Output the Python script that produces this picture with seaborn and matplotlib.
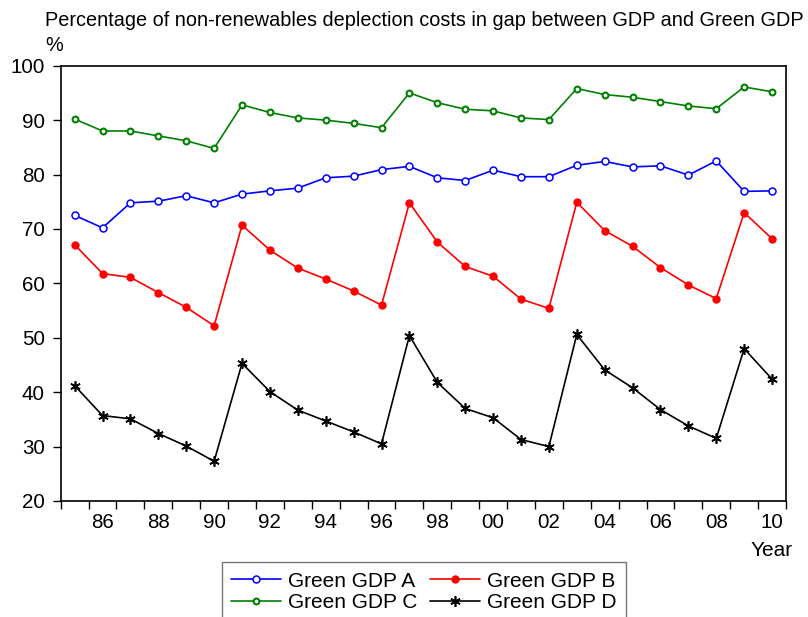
import numpy as np
import pandas as pd
import matplotlib
matplotlib.use("Agg")
import matplotlib.pyplot as plt
from matplotlib.ticker import FixedLocator
import seaborn as sns

# values (%), 1985-2010
years = list(range(1985, 2011))
green_gdp_a = [72.5, 70.2, 74.8, 75.1, 76.1, 74.8, 76.4, 77.0, 77.5, 79.4, 79.7, 80.9, 81.5,
               79.4, 78.9, 80.8, 79.6, 79.6, 81.7, 82.4, 81.4, 81.6, 79.9, 82.5, 76.9, 77.0]
green_gdp_b = [67.1, 61.8, 61.1, 58.3, 55.6, 52.2, 70.7, 66.1, 62.8, 60.8, 58.6, 56.0, 74.8,
               67.6, 63.1, 61.3, 57.1, 55.4, 74.9, 69.7, 66.8, 62.9, 59.7, 57.2, 73.0, 68.2]
green_gdp_c = [90.2, 88.0, 88.0, 87.1, 86.2, 84.8, 92.8, 91.4, 90.4, 90.0, 89.4, 88.6, 95.0,
               93.2, 92.0, 91.7, 90.4, 90.1, 95.8, 94.7, 94.2, 93.4, 92.6, 92.1, 96.1, 95.2]
green_gdp_d = [41.2, 35.7, 35.1, 32.4, 30.1, 27.3, 45.3, 40.1, 36.7, 34.7, 32.7, 30.5, 50.4,
               41.8, 37.0, 35.3, 31.3, 30.0, 50.6, 44.1, 40.8, 36.8, 33.8, 31.5, 48.0, 42.4]

series_labels = ["Green GDP A", "Green GDP B", "Green GDP C", "Green GDP D"]

df = pd.DataFrame({"Year": years,
                   "Green GDP A": green_gdp_a,
                   "Green GDP B": green_gdp_b,
                   "Green GDP C": green_gdp_c,
                   "Green GDP D": green_gdp_d})

sns.set_style("white")
plt.rcParams["font.family"] = ["Liberation Sans", "DejaVu Sans"]
plt.rcParams["text.color"] = "black"
plt.rcParams["xtick.color"] = "black"
plt.rcParams["ytick.color"] = "black"

styles = {
    "Green GDP A": dict(color="#0000FF", marker="o", markersize=5, markerfacecolor="white",
                        markeredgecolor="#0000FF", markeredgewidth=1.1),
    "Green GDP B": dict(color="#FF0000", marker="o", markersize=5, markerfacecolor="#FF0000",
                        markeredgecolor="#FF0000", markeredgewidth=1.0),
    "Green GDP C": dict(color="#008000", marker="o", markersize=4.2, markerfacecolor="white",
                        markeredgecolor="#008000", markeredgewidth=1.5),
    "Green GDP D": dict(color="black", marker=(6, 2, 0), markersize=7.5,
                        markeredgecolor="black", markeredgewidth=1.2),
}

fig = plt.figure(figsize=(8.08, 6.17), dpi=100)
ax = fig.add_axes([60.7 / 808, 1 - 501 / 617, (786 - 60.7) / 808, (501 - 65.7) / 617])

handles = {}
for name in series_labels:
    sns.lineplot(data=df, x="Year", y=name, ax=ax, linewidth=1.2, label=name, **styles[name])
    handles[name] = ax.get_lines()[-1]
ax.get_legend().remove()

ax.set_xlim(1984.5, 2010.5)
ax.set_ylim(20, 100)
ax.set_yticks(np.arange(20, 101, 10))
ax.set_yticklabels([str(v) for v in range(20, 101, 10)], fontsize=14.8)

even_years = [y for y in years if y % 2 == 0]
ax.set_xticks(even_years)
ax.set_xticklabels([f"{y % 100:02d}" for y in even_years], fontsize=14.8)
ax.xaxis.set_minor_locator(FixedLocator(np.arange(1984.5, 2011, 1.0)))
ax.tick_params(axis="x", which="major", length=0, pad=9)
ax.tick_params(axis="x", which="minor", length=6, width=1, direction="out", bottom=True)
ax.tick_params(axis="y", which="major", length=6, width=1, direction="out", left=True, pad=5.5)
ax.set_xlabel("")
ax.set_ylabel("")

for side in ["top", "bottom", "left", "right"]:
    ax.spines[side].set_color("black")
    ax.spines[side].set_linewidth(1.2)

fig.text(45 / 808, 1 - 20 / 617,
         "Percentage of non-renewables deplection costs in gap between GDP and Green GDP",
         fontsize=14.3, ha="left", va="center")
fig.text(45 / 808, 1 - 45.5 / 617, "%", fontsize=14.3, ha="left", va="center")
fig.text(793 / 808, 1 - 550 / 617, "Year", fontsize=15, ha="right", va="center")

order = ["Green GDP A", "Green GDP C", "Green GDP B", "Green GDP D"]
leg = fig.legend([handles[n] for n in order], order, ncol=2, loc="upper left",
                 bbox_to_anchor=(221.7 / 808, 1 - 562.3 / 617), bbox_transform=fig.transFigure,
                 borderaxespad=0, fontsize=15, frameon=True, fancybox=False,
                 handlelength=2.4, handletextpad=0.34, columnspacing=0.6,
                 labelspacing=0.12, borderpad=0.45)
leg.get_frame().set_edgecolor("#555555")
leg.get_frame().set_linewidth(1.0)

fig.savefig("out.png", dpi=100)
